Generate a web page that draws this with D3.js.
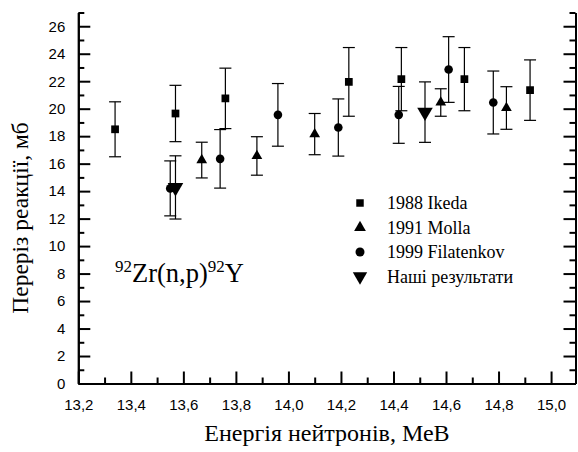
<!DOCTYPE html>
<html>
<head>
<meta charset="utf-8">
<script src="https://cdn.jsdelivr.net/npm/d3@7"></script>
<style>
  body { margin: 0; background: #fff; }
  svg { display: block; }
</style>
</head>
<body>
<script>
  // 1988 Ikeda
  const ikedaE = [13.34, 13.57, 13.76, 14.23, 14.43, 14.67, 14.92];
  const ikedaS = [18.5, 19.65, 20.75, 21.95, 22.15, 22.15, 21.35];
  const ikedaErr = [2.0, 2.05, 2.2, 2.5, 2.3, 2.3, 2.2];

  // 1991 Molla
  const mollaE = [13.67, 13.88, 14.10, 14.58, 14.83];
  const mollaS = [16.26, 16.56, 18.15, 20.45, 20.05];
  const mollaErr = [1.3, 1.4, 1.5, 1.0, 1.55];

  // 1999 Filatenkov
  const filatE = [13.55, 13.74, 13.96, 14.19, 14.42, 14.61, 14.78];
  const filatS = [14.2, 16.35, 19.55, 18.63, 19.55, 22.85, 20.45];
  const filatErr = [2.0, 2.13, 2.28, 2.08, 2.07, 2.39, 2.29];

  // Наші результати
  const oursE = [13.57, 14.52];
  const oursS = [14.27, 19.75];
  const oursErr = [2.3, 2.2];

  const seriesNames = ['1988 Ikeda', '1991 Molla', '1999 Filatenkov', 'Наші результати'];
  const xTicks = [13.2, 13.4, 13.6, 13.8, 14.0, 14.2, 14.4, 14.6, 14.8, 15.0];
  const yTicks = [0, 2, 4, 6, 8, 10, 12, 14, 16, 18, 20, 22, 24, 26];

  const width = 578;
  const height = 452;
  const serif = '"Liberation Serif", "Times New Roman", serif';
  const sans = '"Liberation Sans", Arial, sans-serif';

  const svg = d3.select('body').append('svg')
    .attr('width', width)
    .attr('height', height);

  const x = d3.scaleLinear().domain([13.2, 15.093]).range([78.3, 575.5]);
  const y = d3.scaleLinear().domain([0, 27]).range([383.5, 12.5]);

  const fmt = (d) => d3.format('.1f')(d).replace('.', ',');

  // minor ticks
  const xMinor = d3.range(13.3, 15.09, 0.2);
  const yMinor = d3.range(1, 28, 2);

  const styleAxis = (g) => {
    g.select('.domain').attr('stroke', '#000').attr('stroke-width', 2);
    g.selectAll('.tick line').attr('stroke', '#000').attr('stroke-width', 2);
  };

  // bottom
  svg.append('g')
    .attr('transform', `translate(0,${y(0)})`)
    .call(d3.axisBottom(x).tickValues(xMinor).tickSize(-6).tickSizeOuter(0).tickFormat(''))
    .call(styleAxis);
  svg.append('g')
    .attr('transform', `translate(0,${y(0)})`)
    .call(d3.axisBottom(x).tickValues(xTicks).tickSize(-12).tickSizeOuter(0).tickFormat(fmt).tickPadding(16))
    .call(styleAxis)
    .call((g) => g.selectAll('text').attr('font-family', sans).attr('font-size', 15).attr('fill', '#000'));

  // left
  svg.append('g')
    .attr('transform', `translate(${x.range()[0]},0)`)
    .call(d3.axisLeft(y).tickValues(yMinor).tickSize(-6).tickSizeOuter(0).tickFormat(''))
    .call(styleAxis);
  svg.append('g')
    .attr('transform', `translate(${x.range()[0]},0)`)
    .call(d3.axisLeft(y).tickValues(yTicks).tickSize(-12).tickSizeOuter(0).tickPadding(13).tickFormat(d3.format('d')))
    .call(styleAxis)
    .call((g) => g.selectAll('text').attr('font-family', sans).attr('font-size', 15).attr('fill', '#000'));

  // right
  svg.append('g')
    .attr('transform', `translate(${x.range()[1]},0)`)
    .call(d3.axisRight(y).tickValues(yMinor).tickSize(-6).tickSizeOuter(0).tickFormat(''))
    .call(styleAxis);
  svg.append('g')
    .attr('transform', `translate(${x.range()[1]},0)`)
    .call(d3.axisRight(y).tickValues(yTicks).tickSize(-12).tickSizeOuter(0).tickFormat(''))
    .call(styleAxis);

  // axis titles
  svg.append('text')
    .attr('x', (x.range()[0] + x.range()[1]) / 2)
    .attr('y', 441)
    .attr('text-anchor', 'middle')
    .attr('font-family', serif)
    .attr('font-size', 24)
    .text('Енергія нейтронів, МеВ');

  svg.append('text')
    .attr('transform', 'translate(28,218) rotate(-90)')
    .attr('text-anchor', 'middle')
    .attr('font-family', serif)
    .attr('font-size', 23.5)
    .text('Переріз реакції, мб');

  // reaction label
  const lab = svg.append('text')
    .attr('x', 115)
    .attr('y', 282)
    .attr('font-family', serif)
    .attr('font-size', 26.5);
  lab.append('tspan').attr('font-size', 17).attr('dy', -10).text('92');
  lab.append('tspan').attr('dy', 10).text('Zr(n,p)');
  lab.append('tspan').attr('font-size', 17).attr('dy', -10).text('92');
  lab.append('tspan').attr('dy', 10).text('Y');

  const series = [
    { e: ikedaE, s: ikedaS, err: ikedaErr, sym: d3.symbolSquare, size: 60, rot: 0 },
    { e: mollaE, s: mollaS, err: mollaErr, sym: d3.symbolTriangle, size: 50, rot: 0 },
    { e: filatE, s: filatS, err: filatErr, sym: d3.symbolCircle, size: 58, rot: 0 },
    { e: oursE, s: oursS, err: oursErr, sym: d3.symbolTriangle, size: 105, rot: 180 }
  ];

  const cap = 6;
  series.forEach((ser) => {
    const pts = ser.e.map((e, i) => ({ e, s: ser.s[i], err: ser.err[i] }));
    const g = svg.append('g');
    const eb = g.selectAll('g.eb').data(pts).join('g').attr('class', 'eb')
      .attr('stroke', '#000').attr('stroke-width', 1.2);
    eb.append('line')
      .attr('x1', (d) => x(d.e)).attr('x2', (d) => x(d.e))
      .attr('y1', (d) => y(d.s + d.err)).attr('y2', (d) => y(d.s - d.err));
    eb.append('line')
      .attr('x1', (d) => x(d.e) - cap).attr('x2', (d) => x(d.e) + cap)
      .attr('y1', (d) => y(d.s + d.err)).attr('y2', (d) => y(d.s + d.err));
    eb.append('line')
      .attr('x1', (d) => x(d.e) - cap).attr('x2', (d) => x(d.e) + cap)
      .attr('y1', (d) => y(d.s - d.err)).attr('y2', (d) => y(d.s - d.err));
    g.selectAll('path.mk').data(pts).join('path').attr('class', 'mk')
      .attr('d', d3.symbol().type(ser.sym).size(ser.size))
      .attr('transform', (d) => `translate(${x(d.e)},${y(d.s)}) rotate(${ser.rot})`)
      .attr('fill', '#000');
  });

  // legend
  const legendSizes = [56, 60, 64, 90];
  const lg = svg.append('g').attr('transform', 'translate(360,203)');
  seriesNames.forEach((name, i) => {
    const ser = series[i];
    lg.append('path')
      .attr('d', d3.symbol().type(ser.sym).size(legendSizes[i]))
      .attr('transform', `translate(0,${i * 24.5}) rotate(${ser.rot})`)
      .attr('fill', '#000');
    lg.append('text')
      .attr('x', 27)
      .attr('y', i * 24.5 + 6)
      .attr('font-family', serif)
      .attr('font-size', 18)
      .text(name);
  });
</script>
</body>
</html>
